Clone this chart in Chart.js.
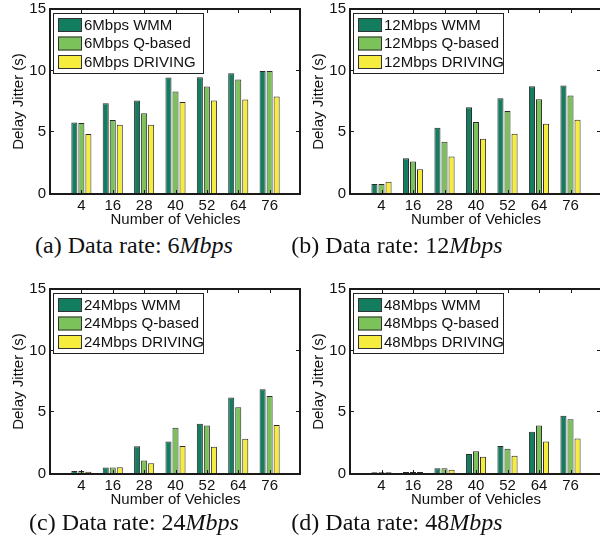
<!DOCTYPE html>
<html>
<head>
<meta charset="utf-8">
<script src="https://cdn.jsdelivr.net/npm/chart.js@4.4.1/dist/chart.umd.min.js"></script>
<style>
  html, body { margin: 0; padding: 0; background: #fff; width: 600px; height: 548px; overflow: hidden; }
  .panel { position: absolute; }
  .cap { position: absolute; font-family: "Liberation Serif", "DejaVu Serif", serif; font-size: 24px; color: #111; white-space: nowrap; transform: translateX(-50%); }
  .cap i { font-style: italic; }
</style>
</head>
<body>
<div class="panel" style="left:0;top:0;width:301px;height:230px"><canvas id="c6"></canvas></div>
<div class="panel" style="left:300px;top:0;width:302px;height:230px"><canvas id="c12"></canvas></div>
<div class="panel" style="left:0;top:280px;width:301px;height:230px"><canvas id="c24"></canvas></div>
<div class="panel" style="left:300px;top:280px;width:302px;height:230px"><canvas id="c48"></canvas></div>

<div class="cap" style="left:134px;top:232px">(a) Data rate: 6<i>Mbps</i></div>
<div class="cap" style="left:397px;top:232px">(b) Data rate: 12<i>Mbps</i></div>
<div class="cap" style="left:134px;top:509px">(c) Data rate: 24<i>Mbps</i></div>
<div class="cap" style="left:397px;top:509px">(d) Data rate: 48<i>Mbps</i></div>

<script>
// x categories (number of vehicles) and y ticks
const vehicles = ['4', '16', '28', '40', '52', '64', '76'];
const yTicks = [0, 5, 10, 15];
const schemes = ['WMM', 'Q-based', 'DRIVING'];
const colors = ['#137d5f', '#7cc25a', '#f5ec3e'];

// delay jitter (s)
const wmm6  = [5.8, 7.36, 7.58, 9.44, 9.47, 9.79, 9.97];
const qb6   = [5.75, 5.99, 6.55, 8.31, 8.71, 9.28, 9.97];
const drv6  = [4.86, 5.61, 5.61, 7.45, 7.58, 7.66, 7.9];

const wmm12 = [0.81, 2.89, 5.37, 7.04, 7.77, 8.74, 8.79];
const qb12  = [0.81, 2.64, 4.24, 5.83, 6.72, 7.69, 7.98];
const drv12 = [1.0, 2.0, 3.05, 4.48, 4.88, 5.69, 6.02];

const wmm24 = [0.24, 0.52, 2.26, 2.64, 4.08, 6.2, 6.88];
const qb24  = [0.24, 0.52, 1.09, 3.75, 3.94, 5.41, 6.33];
const drv24 = [0.19, 0.54, 0.87, 2.28, 2.2, 2.85, 3.97];

const wmm48 = [0.14, 0.16, 0.46, 1.63, 2.28, 3.42, 4.73];
const qb48  = [0.14, 0.16, 0.46, 1.85, 2.04, 3.94, 4.43];
const drv48 = [0.14, 0.16, 0.35, 1.39, 1.47, 2.64, 2.88];

const FONT = '"Liberation Sans", Arial, sans-serif';

// box round the plot, inward ticks, legend inside top-left
const boxPlugin = {
  id: 'matlabBox',
  afterDraw(chart) {
    const ctx = chart.ctx;
    const a = chart.chartArea;
    const x = chart.scales.x, y = chart.scales.y;
    const L = Math.round(a.left), R = Math.round(a.right);
    const T = Math.round(a.top), B = Math.round(a.bottom);
    ctx.save();
    ctx.fillStyle = '#1a1a1a';
    ctx.fillRect(L - 1, T - 1, R - L + 1, 2);
    ctx.fillRect(L - 1, B - 1, R - L + 1, 2);
    ctx.fillRect(L - 1, T - 1, 2, B - T + 2);
    ctx.fillRect(R - 2, T - 1, 2, B - T + 2);
    yTicks.forEach(v => {
      const py = Math.round(y.getPixelForValue(v));
      ctx.fillRect(L, py - 1, 4, 1);
      ctx.fillRect(R - 5, py - 1, 4, 1);
    });
    vehicles.forEach((lab, i) => {
      const px = Math.round(x.getPixelForValue(i + 1));
      ctx.fillRect(px, B - 4, 1, 4);
      ctx.fillRect(px, T, 1, 4);
    });

    // legend
    const lx = L + 3, ly = T + 4;
    const w = 150, h = 60;
    ctx.fillStyle = '#fff';
    ctx.fillRect(lx, ly, w, h);
    ctx.strokeStyle = '#222';
    ctx.lineWidth = 1;
    ctx.strokeRect(lx + 0.5, ly + 0.5, w, h);
    ctx.font = '15px ' + FONT;
    ctx.textBaseline = 'middle';
    chart.data.datasets.forEach((ds, i) => {
      const ry = ly + 5 + i * 18.5;
      ctx.fillStyle = ds.backgroundColor;
      ctx.fillRect(lx + 5, ry, 24, 14);
      ctx.strokeStyle = '#333';
      ctx.strokeRect(lx + 5.5, ry + 0.5, 23, 13);
      ctx.fillStyle = '#111';
      ctx.fillText(ds.label, lx + 31, ry + 7.5);
    });
    ctx.restore();
  }
};

function makePanel(id, rate, series) {
  new Chart(document.getElementById(id), {
    type: 'bar',
    data: {
      datasets: series.map((vals, k) => ({
        label: rate + 'Mbps ' + schemes[k],
        data: vals.map((v, i) => ({ x: i + 1, y: v })),
        backgroundColor: colors[k],
        borderColor: '#2b2b2b',
        borderWidth: 1,
        borderSkipped: 'bottom',
        categoryPercentage: 0.672,
        barPercentage: 0.86
      }))
    },
    options: {
      responsive: true,
      maintainAspectRatio: false,
      animation: false,
      layout: { padding: { top: 9, left: 0, right: 0, bottom: 0 } },
      plugins: { legend: { display: false }, tooltip: { enabled: false } },
      scales: {
        x: {
          type: 'linear',
          offset: false,
          min: 0, max: 8,
          grid: { display: false, drawTicks: false },
          border: { display: false },
          afterBuildTicks: s => { s.ticks = vehicles.map((v, i) => ({ value: i + 1 })); },
          afterFit: s => { s.height = 36; s.paddingLeft = 0; s.paddingRight = 0; },
          ticks: {
            padding: 3,
            color: '#111',
            font: { family: FONT, size: 15 },
            maxRotation: 0,
            callback: v => vehicles[v - 1] || ''
          },
          title: {
            display: true, text: 'Number of Vehicles', color: '#111',
            font: { family: FONT, size: 15 }, padding: { top: 0, bottom: 1 }
          }
        },
        y: {
          min: 0, max: 15,
          grid: { display: false, drawTicks: false },
          border: { display: false },
          afterBuildTicks: s => { s.ticks = yTicks.map(v => ({ value: v })); },
          afterFit: s => { s.width = 50; s.paddingTop = 0; s.paddingBottom = 0; },
          ticks: { padding: 4, color: '#111', font: { family: FONT, size: 15 } },
          title: {
            display: true, text: 'Delay Jitter (s)', color: '#111',
            font: { family: FONT, size: 15 }, padding: { top: 10, bottom: 0 }
          }
        }
      }
    },
    plugins: [boxPlugin]
  });
}

makePanel('c6', '6', [wmm6, qb6, drv6]);
makePanel('c12', '12', [wmm12, qb12, drv12]);
makePanel('c24', '24', [wmm24, qb24, drv24]);
makePanel('c48', '48', [wmm48, qb48, drv48]);
</script>
</body>
</html>
